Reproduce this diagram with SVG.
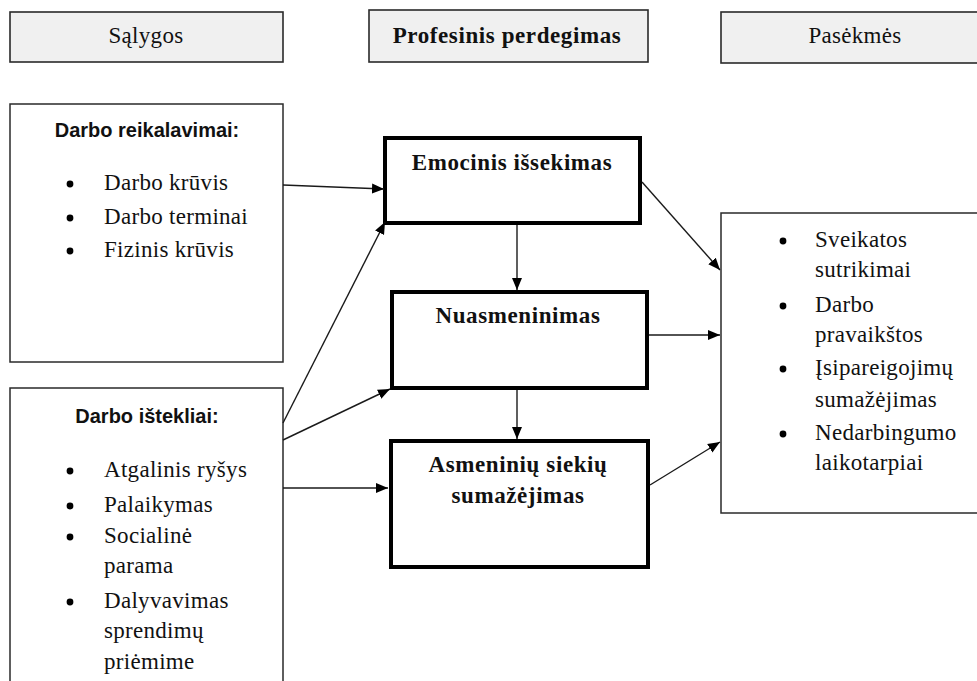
<svg xmlns="http://www.w3.org/2000/svg" width="977" height="681" viewBox="0 0 977 681">
  <style>
    .hdr { fill: #f0f0f0; stroke: #2a2a2a; stroke-width: 1.6; }
    .box { fill: #ffffff; stroke: #2a2a2a; stroke-width: 1.5; }
    .thick { fill: #ffffff; stroke: #000000; stroke-width: 4; }
    .serif { font-family: "Liberation Serif", "Times New Roman", serif; font-size: 23px; letter-spacing: 0.3px; fill: #111; }
    .bold { font-weight: bold; letter-spacing: 0.6px; }
    .sans { font-family: "Liberation Sans", Arial, sans-serif; font-size: 20px; font-weight: bold; fill: #111; }
    .mid { text-anchor: middle; }
    .dot { fill: #000; }
    .conn line { stroke: #1a1a1a; stroke-width: 1.4; marker-end: url(#arrow); }
  </style>
  <defs>
    <marker id="arrow" markerUnits="userSpaceOnUse" markerWidth="12" markerHeight="12" viewBox="0 0 12 12" refX="12" refY="6" orient="auto">
      <path d="M0,1 L12,6 L0,11 Z" fill="#000"/>
    </marker>
  </defs>

  <rect width="977" height="681" fill="#ffffff"/>

  <!-- column headers -->
  <g id="hdr-salygos">
    <rect class="hdr" x="10" y="12" width="273" height="50"/>
    <text class="serif mid" x="146" y="43">Sąlygos</text>
  </g>
  <g id="hdr-perdegimas">
    <rect class="hdr" x="369" y="10" width="279" height="52"/>
    <text class="serif bold mid" x="507" y="43">Profesinis perdegimas</text>
  </g>
  <g id="hdr-pasekmes">
    <rect class="hdr" x="721" y="12" width="262" height="51"/>
    <text class="serif mid" x="855" y="43">Pasėkmės</text>
  </g>

  <!-- job demands -->
  <g id="reikalavimai">
    <rect class="box" x="10" y="104" width="273" height="258"/>
    <text class="sans mid" x="147" y="137">Darbo reikalavimai:</text>
    <g class="serif">
      <circle class="dot" cx="70" cy="184" r="3.4"/>
      <text x="104" y="190">Darbo krūvis</text>
      <circle class="dot" cx="70" cy="218" r="3.4"/>
      <text x="104" y="224">Darbo terminai</text>
      <circle class="dot" cx="70" cy="251" r="3.4"/>
      <text x="104" y="257">Fizinis krūvis</text>
    </g>
  </g>

  <!-- job resources -->
  <g id="istekliai">
    <path class="box" d="M10,690 V388 H283 V690"/>
    <text class="sans mid" x="147" y="423">Darbo ištekliai:</text>
    <g class="serif">
      <circle class="dot" cx="70" cy="471" r="3.4"/>
      <text x="104" y="477">Atgalinis ryšys</text>
      <circle class="dot" cx="70" cy="506" r="3.4"/>
      <text x="104" y="512">Palaikymas</text>
      <circle class="dot" cx="70" cy="537" r="3.4"/>
      <text x="104" y="543">Socialinė</text>
      <text x="104" y="573">parama</text>
      <circle class="dot" cx="70" cy="602" r="3.4"/>
      <text x="104" y="608">Dalyvavimas</text>
      <text x="104" y="638">sprendimų</text>
      <text x="104" y="669">priėmime</text>
    </g>
  </g>

  <!-- burnout dimensions -->
  <g id="emocinis">
    <rect class="thick" x="385" y="138" width="255" height="85"/>
    <text class="serif bold mid" x="512" y="170">Emocinis išsekimas</text>
  </g>
  <g id="nuasmeninimas">
    <rect class="thick" x="392" y="292" width="255" height="96"/>
    <text class="serif bold mid" x="518" y="323">Nuasmeninimas</text>
  </g>
  <g id="asmeniniu">
    <rect class="thick" x="391" y="441" width="257" height="126"/>
    <text class="serif bold mid" x="518" y="472">Asmeninių siekių</text>
    <text class="serif bold mid" x="518" y="503">sumažėjimas</text>
  </g>

  <!-- consequences -->
  <g id="pasekmes">
    <rect class="box" x="721" y="213" width="262" height="300"/>
    <g class="serif">
      <circle class="dot" cx="783" cy="241" r="3.4"/>
      <text x="815" y="247">Sveikatos</text>
      <text x="815" y="277">sutrikimai</text>
      <circle class="dot" cx="783" cy="306" r="3.4"/>
      <text x="815" y="312">Darbo</text>
      <text x="815" y="342">pravaikštos</text>
      <circle class="dot" cx="783" cy="369" r="3.4"/>
      <text x="815" y="375">Įsipareigojimų</text>
      <text x="815" y="407">sumažėjimas</text>
      <circle class="dot" cx="783" cy="434" r="3.4"/>
      <text x="815" y="440">Nedarbingumo</text>
      <text x="815" y="470">laikotarpiai</text>
    </g>
  </g>

  <!-- connectors -->
  <g id="connectors" class="conn">
    <line x1="283" y1="185" x2="384" y2="189"/>
    <line x1="283" y1="423" x2="385" y2="222"/>
    <line x1="283" y1="440" x2="390" y2="389"/>
    <line x1="283" y1="488" x2="388" y2="488"/>
    <line x1="517" y1="225" x2="517" y2="290"/>
    <line x1="517" y1="390" x2="517" y2="439"/>
    <line x1="642" y1="182" x2="720" y2="270"/>
    <line x1="649" y1="335" x2="720" y2="335"/>
    <line x1="650" y1="485" x2="720" y2="442"/>
  </g>
</svg>
